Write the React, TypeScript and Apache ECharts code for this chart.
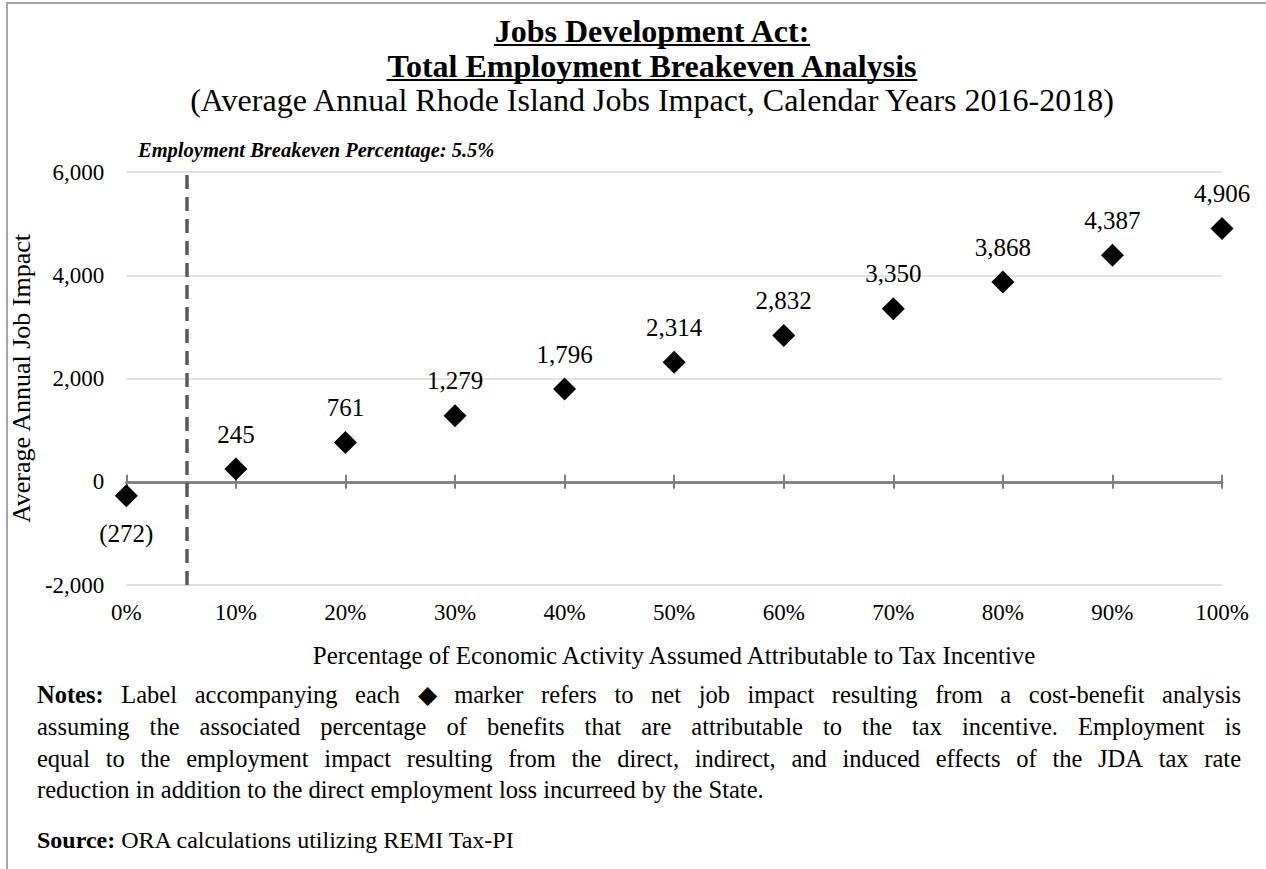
import React, { useEffect, useRef } from "react";
import * as echarts from "echarts";

// ---- data ----
const percentages = [0, 10, 20, 30, 40, 50, 60, 70, 80, 90, 100];
const jobImpact = [-272, 245, 761, 1279, 1796, 2314, 2832, 3350, 3868, 4387, 4906];
const breakevenPercent = 5.5;
const yMin = -2000;
const yMax = 6000;
const yStep = 2000;
const xMin = 0;
const xMax = 100;
const xStep = 10;

// ---- texts ----
const titleLines = ["Jobs Development Act:", "Total Employment Breakeven Analysis"];
const subtitle = "(Average Annual Rhode Island Jobs Impact, Calendar Years 2016-2018)";
const breakevenLabel = "Employment Breakeven Percentage: 5.5%";
const xAxisName = "Percentage of Economic Activity Assumed Attributable to Tax Incentive";
const yAxisName = "Average Annual Job Impact";
const justifiedNoteLines = [
  "Notes: Label accompanying each \u25C6 marker refers to net job impact resulting from a cost-benefit analysis",
  "assuming the associated percentage of benefits that are attributable to the tax incentive. Employment is",
  "equal to the employment impact resulting from the direct, indirect, and induced effects of the JDA tax rate",
];
const lastNoteLine = "reduction in addition to the direct employment loss incurreed by the State.";
const sourceHead = "Source:";
const sourceBody = " ORA calculations utilizing REMI Tax-PI";

const FONT = '"Liberation Serif", "Times New Roman", Times, serif';

function measure(text: string, font: string): number {
  const ctx = document.createElement("canvas").getContext("2d")!;
  ctx.font = font;
  return ctx.measureText(text).width;
}

function fmtNum(v: number): string {
  if (v < 0) return "(" + Math.abs(v).toLocaleString("en-US") + ")";
  return v.toLocaleString("en-US");
}

export default function App() {
  const ref = useRef<HTMLDivElement>(null);

  useEffect(() => {
    if (!ref.current) return;
    const chart = echarts.init(ref.current, null, { renderer: "svg" });

    const graphics: any[] = [];
    // border (top and left only)
    graphics.push({ type: "line", shape: { x1: 6, y1: 3, x2: 1266, y2: 3 }, style: { stroke: "#a6a6a6", lineWidth: 2 } });
    graphics.push({ type: "line", shape: { x1: 7, y1: 3, x2: 7, y2: 869 }, style: { stroke: "#a6a6a6", lineWidth: 2 } });

    // titles
    const cx = 652;
    const titleFont = `bold 32px ${FONT}`;
    const titleYs = [31, 66];
    titleLines.forEach((t, i) => {
      graphics.push({
        type: "text",
        x: cx,
        y: titleYs[i],
        style: { text: t, font: titleFont, lineHeight: 29, fill: "#000", align: "center", verticalAlign: "middle" },
      });
      const w = measure(t, titleFont);
      graphics.push({
        type: "line",
        shape: { x1: cx - w / 2, y1: titleYs[i] + 14, x2: cx + w / 2, y2: titleYs[i] + 14 },
        style: { stroke: "#000", lineWidth: 2 },
      });
    });
    graphics.push({
      type: "text",
      x: cx,
      y: 100,
      style: { text: subtitle, font: `32px ${FONT}`, lineHeight: 29, fill: "#000", align: "center", verticalAlign: "middle" },
    });
    graphics.push({
      type: "text",
      x: 138,
      y: 150,
      style: { text: breakevenLabel, font: `italic bold 20.5px ${FONT}`, fill: "#000", align: "left", verticalAlign: "middle" },
    });

    // justified notes
    const noteFont = `24.5px ${FONT}`;
    const noteBold = `bold 24.5px ${FONT}`;
    const left = 37;
    const right = 1241;
    const noteYs = [694, 726, 758, 789];
    justifiedNoteLines.forEach((line, li) => {
      const words = line.split(" ");
      const fonts = words.map((w, wi) => (li === 0 && wi === 0 ? noteBold : noteFont));
      const widths = words.map((w, wi) => measure(w, fonts[wi]));
      const total = widths.reduce((a, b) => a + b, 0);
      const gap = (right - left - total) / (words.length - 1);
      let x = left;
      words.forEach((w, wi) => {
        graphics.push({
          type: "text",
          x,
          y: noteYs[li],
          style: { text: w, font: fonts[wi], fill: "#000", align: "left", verticalAlign: "middle" },
        });
        x += widths[wi] + gap;
      });
    });
    graphics.push({
      type: "text",
      x: left,
      y: noteYs[3],
      style: { text: lastNoteLine, font: noteFont, fill: "#000", align: "left", verticalAlign: "middle" },
    });
    graphics.push({
      type: "text",
      x: left,
      y: 840,
      style: {
        text: `{b|${sourceHead}}${sourceBody}`,
        font: `24px ${FONT}`,
        fill: "#000",
        align: "left",
        verticalAlign: "middle",
        rich: { b: { fontWeight: "bold", fontSize: 24, fontFamily: FONT, fill: "#000" } },
      },
    });

    const scatterData = percentages.map((p, i) => {
      const v = jobImpact[i];
      return v < 0
        ? { value: [p, v], label: { position: "bottom", distance: 14 } }
        : { value: [p, v] };
    });

    const baseX = { type: "value", min: xMin, max: xMax, interval: xStep, splitLine: { show: false } };

    chart.setOption({
      animation: false,
      backgroundColor: "#ffffff",
      grid: { left: 124, right: 44, top: 172, bottom: 284 },
      xAxis: [
        {
          ...baseX,
          position: "bottom",
          axisLine: { show: false, onZero: false },
          axisTick: { show: false },
          axisLabel: { show: true, formatter: "{value}%", fontSize: 23, fontFamily: FONT, color: "#000", margin: 16 },
          name: xAxisName,
          nameLocation: "middle",
          nameGap: 58,
          nameTextStyle: { fontSize: 25, fontFamily: FONT, color: "#000" },
        },
        {
          ...baseX,
          position: "bottom",
          axisLine: { show: true, onZero: true, onZeroAxisIndex: 0, lineStyle: { color: "#808080", width: 2.5 } },
          axisTick: { show: true, inside: false, length: 7, lineStyle: { color: "#808080", width: 2 } },
          axisLabel: { show: false },
        },
        {
          ...baseX,
          position: "bottom",
          axisLine: { show: true, onZero: true, onZeroAxisIndex: 0, lineStyle: { color: "#808080", width: 2.5 } },
          axisTick: { show: true, inside: true, length: 7, lineStyle: { color: "#808080", width: 2 } },
          axisLabel: { show: false },
        },
      ],
      yAxis: {
        type: "value",
        min: yMin,
        max: yMax,
        interval: yStep,
        axisLine: { show: false },
        axisTick: { show: false },
        splitLine: { show: true, lineStyle: { color: "#d9d9d9", width: 1.5 } },
        axisLabel: {
          formatter: (v: number) => v.toLocaleString("en-US"),
          fontSize: 23,
          fontFamily: FONT,
          color: "#000",
          margin: 22,
        },
        name: yAxisName,
        nameLocation: "middle",
        nameGap: 80,
        nameTextStyle: { fontSize: 26, fontFamily: FONT, color: "#000" },
      },
      graphic: graphics,
      series: [
        {
          type: "scatter",
          xAxisIndex: 0,
          yAxisIndex: 0,
          symbol: "diamond",
          symbolSize: 23,
          itemStyle: { color: "#000", opacity: 1 },
          label: {
            show: true,
            position: "top",
            distance: 11,
            formatter: (p: any) => fmtNum(p.value[1]),
            fontSize: 25,
            fontFamily: FONT,
            color: "#000",
          },
          data: scatterData,
          markLine: {
            silent: true,
            symbol: "none",
            label: { show: false },
            lineStyle: { color: "#595959", width: 3.5, type: [14, 8] },
            data: [{ xAxis: breakevenPercent }],
          },
          z: 5,
        },
      ],
    });

    return () => chart.dispose();
  }, []);

  return (
    <div
      ref={ref}
      style={{ position: "fixed", left: 0, top: 0, width: 1266, height: 869, background: "#fff" }}
    />
  );
}
